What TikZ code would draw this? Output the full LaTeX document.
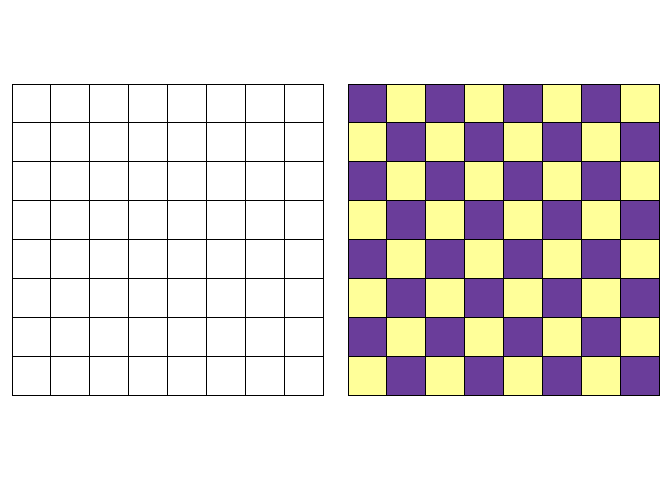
\documentclass[tikz,border=0pt]{standalone}
\usepackage{tikz}
\usepackage{xcolor}
\definecolor{boardpurple}{HTML}{6A3D9A}
\definecolor{boardyellow}{HTML}{FFFF99}

\begin{document}
\begin{tikzpicture}[
    x=1pt, y=1pt,
    cell/.style={draw=black, line width=0.8pt},
]
\useasboundingbox (0,0) rectangle (672,480);
% left board: empty grid
\foreach \col in {0,...,7} {
  \foreach \row in {0,...,7} {
    \draw[cell, fill=white] ({12+\col*38.875},{396-\row*38.875}) rectangle ++(38.875,-38.875);
  }
}
% right board: coloured squares
\foreach \col in {0,...,7} {
  \foreach \row in {0,...,7} {
    \pgfmathtruncatemacro{\parity}{mod(\col+\row,2)}
    \ifnum\parity=0
      \def\sqcolor{boardpurple}
    \else
      \def\sqcolor{boardyellow}
    \fi
    \draw[cell, fill=\sqcolor] ({348+\col*38.875},{396-\row*38.875}) rectangle ++(38.875,-38.875);
  }
}
\end{tikzpicture}
\end{document}
